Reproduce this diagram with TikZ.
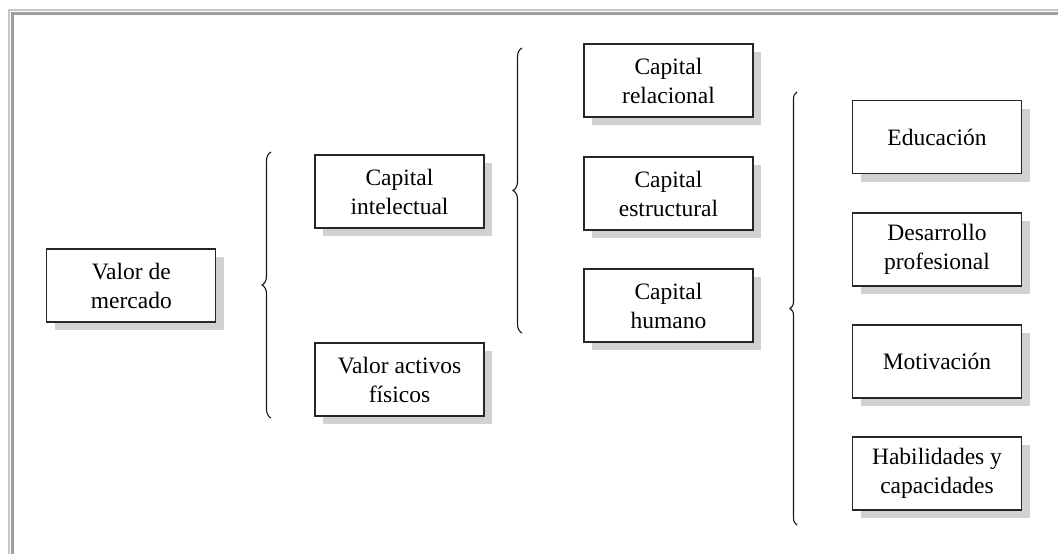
\documentclass[tikz,border=0pt]{standalone}
\usepackage{fontspec}
\setmainfont{Liberation Serif}
\usetikzlibrary{shadows,decorations.pathreplacing}
\begin{document}
\begin{tikzpicture}[x=1pt,y=-1pt,
  itembox/.style={draw=black!85, line width=1.2pt, fill=white,
    minimum width=169pt, minimum height=73pt, inner sep=2pt, align=center,
    font=\fontsize{23.5}{29}\selectfont,
    drop shadow={shadow xshift=8pt, shadow yshift=-8pt, fill=black!18, opacity=1}},
  bracepath/.style={decorate, decoration={brace, amplitude=#1}, line width=1.1pt, draw=black!90},
  framelight/.style={draw=black!22, line width=2pt},
  framedark/.style={draw=black!38, line width=3pt}]
\useasboundingbox (0,0) rectangle (1058,554);
% frame
\draw[framelight] (9,10) -- (1058,10);
\draw[framelight] (9,9) -- (9,554);
\draw[framedark] (12.5,13.5) -- (1058,13.5);
\draw[framedark] (12.5,12) -- (12.5,554);
% boxes
\node[itembox] (vm) at (131.3,285.5) {Valor de\\mercado};
\node[itembox] (ci) at (399.5,191.5) {Capital\\intelectual};
\node[itembox] (vaf) at (399.5,379.5) {Valor activos\\físicos};
\node[itembox] (cr) at (668.5,80.5) {Capital\\relacional};
\node[itembox] (ce) at (668.5,193.5) {Capital\\estructural};
\node[itembox] (ch) at (668.5,305.5) {Capital\\humano};
\node[itembox] (edu) at (937,137) {Educación};
\node[itembox] (dp) at (937,249.5) {Desarrollo\\profesional};
\node[itembox] (mot) at (937,361.5) {Motivación};
\node[itembox] (hab) at (937,473.5) {Habilidades y\\capacidades};
% braces
\coordinate (b1top) at (271,152);
\coordinate (b1bot) at (271,418);
\coordinate (b2top) at (522,48);
\coordinate (b2bot) at (522,333);
\coordinate (b3top) at (797,92);
\coordinate (b3bot) at (797,525);
\draw[bracepath=9pt] (b1bot) -- (b1top);
\draw[bracepath=9pt] (b2bot) -- (b2top);
\draw[bracepath=7pt] (b3bot) -- (b3top);
\end{tikzpicture}
\end{document}
